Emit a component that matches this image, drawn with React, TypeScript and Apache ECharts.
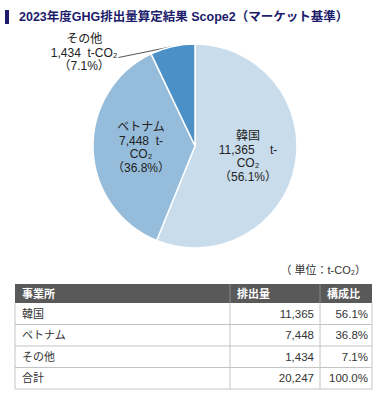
import React, { useEffect, useRef } from 'react';
import * as echarts from 'echarts';

const titleText = '2023年度GHG排出量算定結果 Scope2（マーケット基準）';
const sites = ['韓国', 'ベトナム', 'その他'];
const emissions = [11365, 7448, 1434];
const sliceColors = ['#c9dcec', '#95bcda', '#4b91c8'];
const unitText = '（ 単位：t-CO₂）';
const tableHeaders = ['事業所', '排出量', '構成比'];
const tableSites = ['韓国', 'ベトナム', 'その他', '合計'];
const tableEmissions = ['11,365', '7,448', '1,434', '20,247'];
const tableShares = ['56.1%', '36.8%', '7.1%', '100.0%'];

const FONT = '"Liberation Sans", "Noto Sans CJK JP", sans-serif';

export default function App() {
  const ref = useRef<HTMLDivElement>(null);
  useEffect(() => {
    if (!ref.current) return;
    const chart = echarts.init(ref.current, null, { renderer: 'svg' });

    const colX = [15, 230, 320, 372];
    const headY = 284;
    const headH = 19;
    const rowH = 21.5;
    const g: any[] = [];
    g.push({ type: 'rect', shape: { x: 5, y: 10, width: 4, height: 14 }, style: { fill: '#1c1c6b' } });
    g.push({
      type: 'text', style: { text: titleText, x: 19, y: 17, fill: '#1c1c6b', fontFamily: FONT, fontWeight: 'bold', fontSize: 12.5, verticalAlign: 'middle' },
    });
    g.push({
      type: 'text', style: { text: unitText, x: 366, y: 270, fill: '#333', fontFamily: FONT, fontSize: 11, align: 'right', verticalAlign: 'middle' },
    });
    g.push({ type: 'rect', shape: { x: colX[0], y: headY, width: colX[3] - colX[0], height: headH }, style: { fill: '#595959' } });
    for (let i = 1; i < 3; i++) {
      g.push({ type: 'line', shape: { x1: colX[i], y1: headY, x2: colX[i], y2: headY + headH }, style: { stroke: '#8a8a8a', lineWidth: 1 } });
    }
    tableHeaders.forEach((h, i) => {
      g.push({ type: 'text', style: { text: h, x: colX[i] + 7, y: headY + headH / 2, fill: '#fff', fontFamily: FONT, fontWeight: 'bold', fontSize: 11, verticalAlign: 'middle' } });
    });
    const top = headY + headH;
    const bottom = top + rowH * tableSites.length;
    tableSites.forEach((s, r) => {
      const y = top + r * rowH;
      g.push({ type: 'line', shape: { x1: colX[0], y1: y + rowH, x2: colX[3], y2: y + rowH }, style: { stroke: '#c4c4c4', lineWidth: 1 } });
      const cy = y + rowH / 2;
      g.push({ type: 'text', style: { text: s, x: colX[0] + 7, y: cy, fill: '#333', fontFamily: FONT, fontSize: 11, verticalAlign: 'middle' } });
      g.push({ type: 'text', style: { text: tableEmissions[r], x: colX[2] - 6, y: cy, fill: '#333', fontFamily: FONT, fontSize: 11.5, align: 'right', verticalAlign: 'middle' } });
      g.push({ type: 'text', style: { text: tableShares[r], x: colX[3] - 4, y: cy, fill: '#333', fontFamily: FONT, fontSize: 11.5, align: 'right', verticalAlign: 'middle' } });
    });
    for (let i = 0; i < 4; i++) {
      g.push({ type: 'line', shape: { x1: colX[i], y1: top, x2: colX[i], y2: bottom }, style: { stroke: '#c4c4c4', lineWidth: 1 } });
    }

    chart.setOption({
      animation: false,
      graphic: g,
      series: [
        {
          type: 'pie',
          center: [195, 146],
          radius: 102,
          startAngle: 90,
          clockwise: true,
          percentPrecision: 1,
          itemStyle: { borderColor: '#fff', borderWidth: 1.5 },
          label: {
            position: 'inside',
            fontFamily: FONT,
            fontSize: 12,
            lineHeight: 13.5,
            color: '#222',
            align: 'center',
            formatter: (p: any) => {
              const v = Number(p.value).toLocaleString('en-US');
              const pct = `（${p.percent.toFixed(1)}%）`;
              if (p.dataIndex === 2) return `${p.name}\n${v}  t-CO₂\n${pct}`;
              const sep = p.dataIndex === 0 ? '　 ' : '  ';
              return `${p.name}\n${v}${sep}t-\nCO₂\n${pct}`;
            },
          },
          labelLayout: (p: any) => {
            if (p.dataIndex !== 2 || !p.labelLinePoints) return {};
            const s = p.labelLinePoints[0];
            const e = [s[0] - 54, s[1] + 11];
            return {
              x: e[0] - p.labelRect.width / 2 - 1,
              y: e[1] - 5,
              align: 'center',
              verticalAlign: 'middle',
              labelLinePoints: [s, e, e],
            };
          },
          data: sites.map((name, i) => ({
            name,
            value: emissions[i],
            itemStyle: { color: sliceColors[i] },
            ...(i === 2
              ? {
                  label: { position: 'outside' },
                  labelLine: { show: true, length: 0, length2: 40, lineStyle: { color: '#555', width: 1 } },
                }
              : {}),
          })),
        },
      ],
    });
    return () => chart.dispose();
  }, []);
  return <div ref={ref} style={{ position: 'fixed', left: 0, top: 0, width: 379, height: 396, background: '#fff' }} />;
}
